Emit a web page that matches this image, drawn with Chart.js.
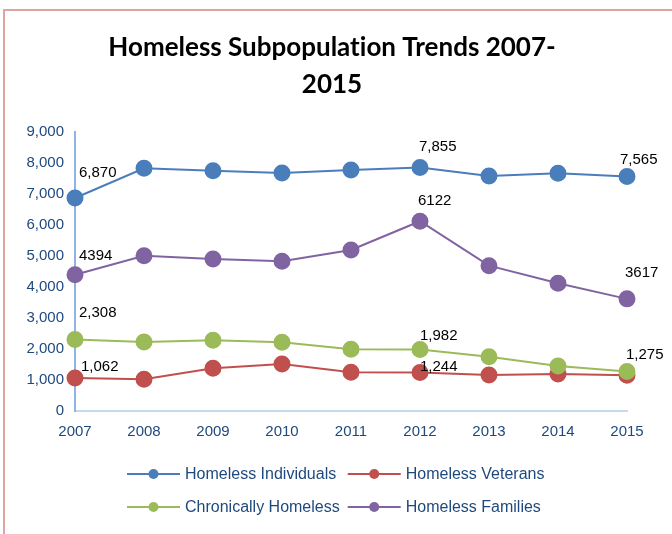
<!DOCTYPE html>
<html>
<head>
<meta charset="utf-8">
<script src="https://cdn.jsdelivr.net/npm/chart.js@4"></script>
<style>
  html, body { margin: 0; padding: 0; background: #fff; overflow: hidden; }
  #wrap { position: relative; width: 672px; height: 534px; }
  #frame { position: absolute; left: 3px; top: 9px; width: 720px; height: 600px; border: 2px solid #DFA4A2; box-sizing: border-box; }
  canvas { position: absolute; left: 0; top: 0; }
</style>
</head>
<body>
<div id="wrap">
  <div id="frame"></div>
  <canvas id="c" width="672" height="534"></canvas>
</div>
<script>
const years = ['2007','2008','2009','2010','2011','2012','2013','2014','2015'];
const homelessIndividuals = [6870, 7830, 7750, 7680, 7775, 7855, 7580, 7670, 7565];
const homelessVeterans   = [1062, 1022, 1377, 1516, 1248, 1244, 1161, 1194, 1150];
const chronicallyHomeless = [2308, 2226, 2280, 2216, 1990, 1982, 1752, 1452, 1275];
const homelessFamilies   = [4394, 5010, 4903, 4829, 5194, 6122, 4688, 4119, 3617];
const yTicks = [0, 1000, 2000, 3000, 4000, 5000, 6000, 7000, 8000, 9000];
const titleLines = ['Homeless Subpopulat\u200Cion Trends 2007-', '2015'];

const textBlue = '#1F497D';
const fontFam = '"Liberation Sans", Arial, sans-serif';

function fmtComma(v) { return v.toLocaleString('en-US'); }
function fmtPlain(v) { return String(v); }

const seriesDefs = [
  { label: 'Homeless Individuals', data: homelessIndividuals, color: '#4A7EBB', fmt: fmtComma,
    labels: [{i:0, dx:4, dy:-25}, {i:5, dx:-1, dy:-21}, {i:8, dx:-7, dy:-17}] },
  { label: 'Homeless Veterans', data: homelessVeterans, color: '#C0504D', fmt: fmtComma,
    labels: [{i:0, dx:6, dy:-11}, {i:5, dx:0, dy:-6}] },
  { label: 'Chronically Homeless', data: chronicallyHomeless, color: '#9BBB59', fmt: fmtComma,
    labels: [{i:0, dx:4, dy:-27}, {i:5, dx:0, dy:-14}, {i:8, dx:-1, dy:-17}] },
  { label: 'Homeless Families', data: homelessFamilies, color: '#8064A2', fmt: fmtPlain,
    labels: [{i:0, dx:4, dy:-19}, {i:5, dx:-2, dy:-20}, {i:8, dx:-2, dy:-26}] }
];
const drawOrder = [0, 3, 1, 2];

const datasets = seriesDefs.map((s, k) => ({
  label: s.label,
  data: s.data,
  borderColor: s.color,
  backgroundColor: s.color,
  pointBackgroundColor: s.color,
  pointBorderColor: s.color,
  borderWidth: 2,
  pointRadius: 7.5,
  pointHoverRadius: 7.5,
  tension: 0,
  order: drawOrder.length - drawOrder.indexOf(k)
}));

const overlayPlugin = {
  id: 'overlay',
  afterDatasetsDraw(chart) {
    const ctx = chart.ctx;
    ctx.save();
    ctx.font = '15px ' + fontFam;
    ctx.fillStyle = '#000';
    ctx.textAlign = 'left';
    ctx.textBaseline = 'middle';
    seriesDefs.forEach((s, k) => {
      const meta = chart.getDatasetMeta(k);
      s.labels.forEach(l => {
        const pt = meta.data[l.i];
        ctx.fillText(s.fmt(s.data[l.i]), pt.x + l.dx, pt.y + l.dy);
      });
    });
    ctx.restore();
  },
  afterDraw(chart) {
    const ctx = chart.ctx;
    ctx.save();
    ctx.font = 'bold 26px Lato, "Open Sans", sans-serif';
    ctx.fillStyle = '#000';
    ctx.textAlign = 'center';
    ctx.textBaseline = 'middle';
    ctx.fillText(titleLines[0], 332, 48);
    ctx.fillText(titleLines[1], 332, 85);
    ctx.font = '16px ' + fontFam;
    ctx.textBaseline = 'middle';
    ctx.textAlign = 'left';
    const lineW = 53, gapText = 5, colGap = 8;
    const cols = [[0, 2], [1, 3]];
    const colW = cols.map(c => lineW + gapText + Math.max(...c.map(k => ctx.measureText(seriesDefs[k].label).width)));
    const total = colW[0] + colGap + colW[1];
    const startX = Math.round((chart.width - total) / 2);
    const rowsY = [474, 507];
    cols.forEach((c, ci) => {
      const x0 = startX + (ci === 0 ? 0 : colW[0] + colGap);
      c.forEach((k, ri) => {
        const y = rowsY[ri];
        const s = seriesDefs[k];
        ctx.strokeStyle = s.color;
        ctx.lineWidth = 2;
        ctx.beginPath();
        ctx.moveTo(x0, y);
        ctx.lineTo(x0 + lineW, y);
        ctx.stroke();
        ctx.fillStyle = s.color;
        ctx.beginPath();
        ctx.arc(x0 + lineW / 2, y, 5, 0, Math.PI * 2);
        ctx.fill();
        ctx.fillStyle = textBlue;
        ctx.fillText(s.label, x0 + lineW + gapText, y + 1);
      });
    });
    ctx.restore();
  }
};

new Chart(document.getElementById('c'), {
  type: 'line',
  data: { labels: years, datasets },
  options: {
    responsive: false,
    animation: false,
    devicePixelRatio: 1,
    layout: { padding: { left: 10, right: 45, top: 132, bottom: 93 } },
    plugins: {
      legend: { display: false },
      title: { display: false },
      tooltip: { enabled: false }
    },
    scales: {
      x: {
        offset: false,
        grid: { display: false, drawTicks: false },
        border: { display: true, color: '#C6D9F1', width: 2 },
        ticks: { color: textBlue, font: { size: 15, family: fontFam }, padding: 12, maxRotation: 0, autoSkip: false },
        afterFit(scale) { scale.height = 30; }
      },
      y: {
        min: 0, max: 9000,
        afterBuildTicks(scale) { scale.ticks = yTicks.map(v => ({ value: v })); },
        grid: { display: false, drawTicks: false },
        border: { display: true, color: '#8EB4E3', width: 2 },
        ticks: { color: textBlue, font: { size: 15, family: fontFam }, padding: 11,
                 callback: v => Number(v).toLocaleString('en-US') },
        afterFit(scale) { scale.width = 65; }
      }
    }
  },
  plugins: [overlayPlugin]
});
</script>
</body>
</html>
